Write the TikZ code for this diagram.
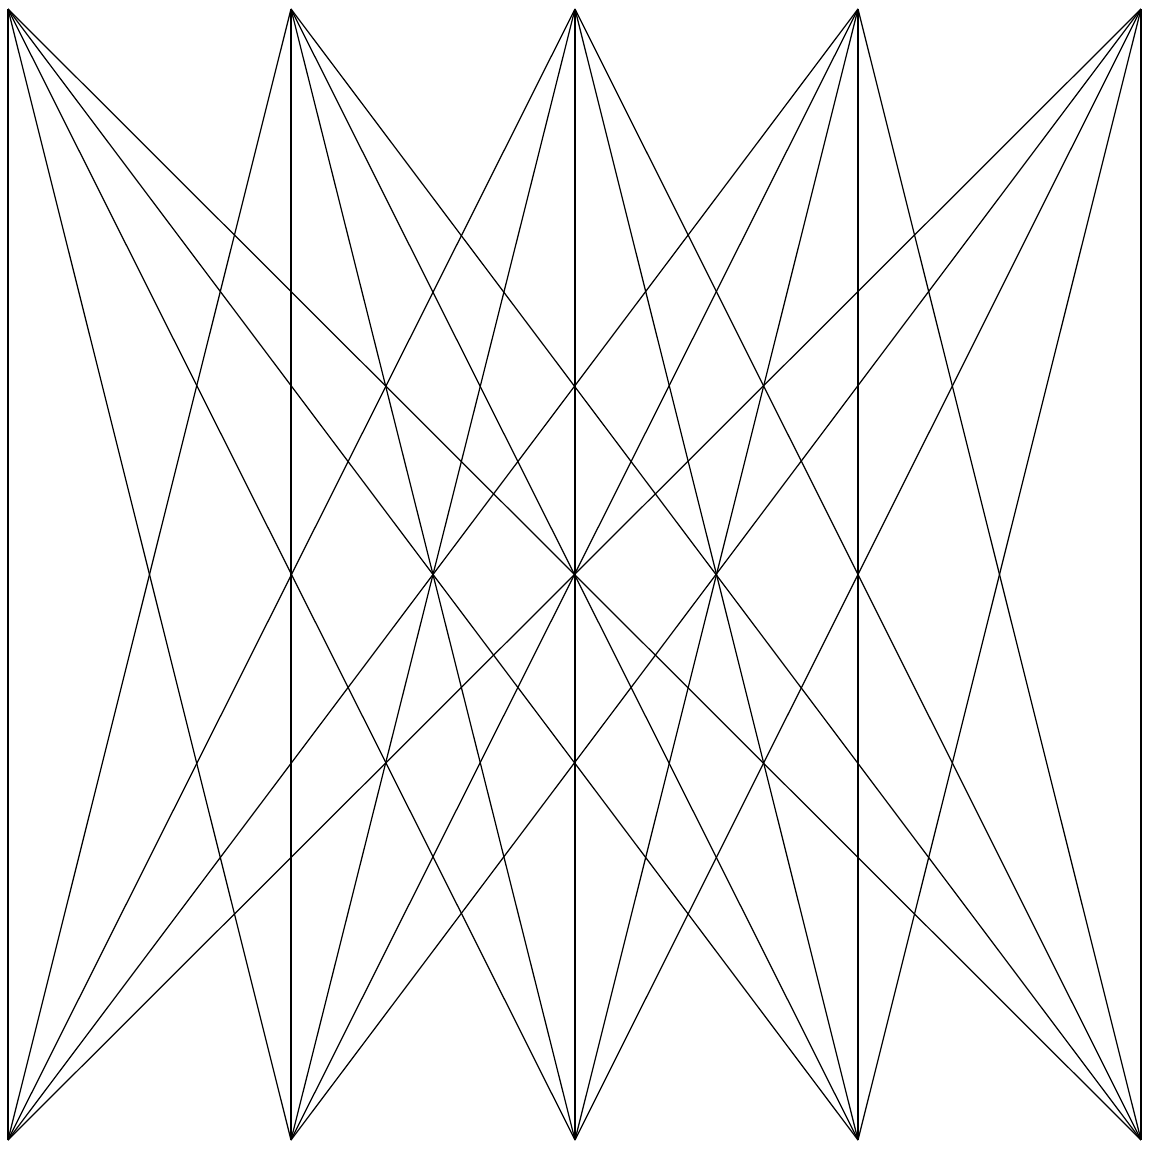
\documentclass[tikz,border=0pt]{standalone}
\usepackage{tikz}

\begin{document}
\begin{tikzpicture}[x=0.01cm,y=0.01cm]
    \useasboundingbox (0,0) rectangle (1150,1150);
    \foreach \i/\x in {1/8,2/291,3/575,4/858,5/1141} {
      \coordinate (top\i) at (\x,1141);
      \coordinate (bot\i) at (\x,10);
    }
    \foreach \i in {1,...,5}
      \foreach \j in {1,...,5}
        \draw[line width=0.35pt] (top\i) -- (bot\j);
  \end{tikzpicture}
\end{document}
